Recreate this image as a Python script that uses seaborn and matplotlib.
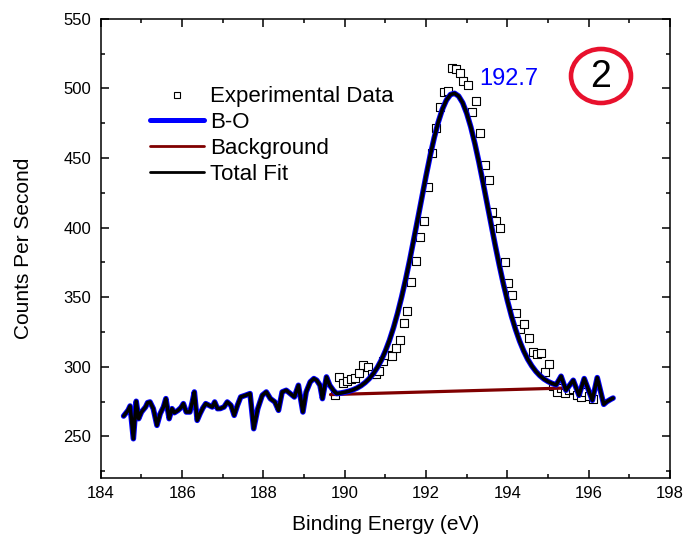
import numpy as np
import pandas as pd
import matplotlib
matplotlib.use("Agg")
import matplotlib.pyplot as plt
import seaborn as sns
from matplotlib.lines import Line2D
from matplotlib.patches import Ellipse
from matplotlib.transforms import IdentityTransform

# ---------------- data ----------------
noise_left_x = [184.56, 184.67, 184.72, 184.80, 184.87, 184.93, 185.00, 185.10, 185.15, 185.21,
                185.29, 185.38, 185.46, 185.54, 185.60, 185.68, 185.75, 185.81, 185.90, 185.97,
                186.03, 186.10, 186.19, 186.25, 186.30, 186.37, 186.44, 186.51, 186.58, 186.66,
                186.74, 186.80, 186.87, 186.94, 187.03, 187.11, 187.20, 187.28, 187.36, 187.44,
                187.56, 187.67, 187.76, 187.86, 187.97, 188.07, 188.17, 188.28, 188.37, 188.46,
                188.56, 188.66, 188.76, 188.86, 188.97, 189.05, 189.15, 189.24, 189.31, 189.39,
                189.45, 189.55, 189.63, 189.72]
noise_left_y = [264.6, 268.7, 271.8, 248.3, 275.2, 262.7, 267.5, 271.1, 274.2, 274.7,
                269.9, 257.9, 266.3, 271.1, 277.1, 262.7, 269.9, 267.0, 268.7, 270.6,
                273.5, 267.5, 267.5, 274.7, 281.9, 261.5, 266.3, 270.4, 273.5, 272.3,
                271.1, 274.7, 269.9, 270.0, 271.1, 274.7, 272.3, 265.1, 272.3, 278.3,
                279.5, 280.7, 255.5, 269.9, 279.5, 281.9, 277.1, 274.7, 268.7, 281.9,
                283.1, 280.7, 278.3, 286.7, 267.5, 281.9, 289.1, 291.5, 290.3, 286.7,
                277.1, 292.7, 286.7, 283.0]

fit_x = [189.8, 189.9, 190.0, 190.1, 190.2, 190.3, 190.4, 190.5, 190.6, 190.7,
         190.8, 190.9, 191.0, 191.1, 191.2, 191.3, 191.4, 191.5, 191.6, 191.7,
         191.8, 191.9, 192.0, 192.1, 192.2, 192.3, 192.4, 192.5, 192.6, 192.7,
         192.8, 192.9, 193.0, 193.1, 193.2, 193.3, 193.4, 193.5, 193.6, 193.7,
         193.8, 193.9, 194.0, 194.1, 194.2, 194.3, 194.4, 194.5, 194.6, 194.7,
         194.8, 194.9, 195.0, 195.1, 195.2]
fit_y = [280.7, 281.1, 281.7, 282.4, 283.4, 284.7, 286.4, 288.6, 291.4, 295.0,
         299.4, 304.8, 311.4, 319.1, 328.2, 338.6, 350.3, 363.1, 377.0, 391.8,
         406.9, 422.3, 437.3, 451.6, 464.6, 475.8, 485.0, 491.6, 495.6, 496.5,
         494.5, 489.7, 482.1, 472.3, 460.4, 447.0, 432.5, 417.5, 402.3, 387.4,
         373.2, 359.8, 347.6, 336.5, 326.9, 318.5, 311.4, 305.4, 300.6, 296.7,
         293.6, 291.2, 289.4, 288.0, 287.0]

noise_right_x = [195.32, 195.44, 195.62, 195.76, 195.89, 196.09, 196.21, 196.37, 196.45, 196.54, 196.60]
noise_right_y = [293.2, 283.1, 290.3, 279.5, 291.5, 275.9, 292.2, 273.0, 275.0, 276.6, 277.5]

bg_x = [189.65, 195.40]
bg_y = [280.0, 284.7]

exp_x = [189.75, 189.85, 189.95, 190.06, 190.15, 190.25, 190.36, 190.46, 190.56, 190.66,
         190.76, 190.85, 190.95, 191.05, 191.15, 191.25, 191.35, 191.45, 191.54, 191.64,
         191.74, 191.84, 191.94, 192.04, 192.15, 192.25, 192.33, 192.43, 192.53, 192.63,
         192.74, 192.84, 192.92, 193.02, 193.14, 193.24, 193.33, 193.44, 193.54, 193.63,
         193.73, 193.82, 193.93, 194.02, 194.12, 194.22, 194.32, 194.42, 194.52, 194.63,
         194.73, 194.83, 194.93, 195.02, 195.11, 195.21, 195.32, 195.42, 195.52, 195.62,
         195.72, 195.80, 195.90, 196.00, 196.10]
exp_y = [280.0, 293.0, 288.5, 290.0, 291.0, 292.0, 295.5, 301.5, 300.0, 295.0,
         295.0, 297.0, 304.0, 308.5, 307.5, 313.5, 319.3, 331.5, 340.4, 360.8,
         376.0, 393.0, 405.0, 429.0, 453.4, 471.4, 486.5, 497.3, 498.4, 514.5,
         514.0, 511.4, 505.6, 502.3, 483.1, 491.2, 468.0, 444.7, 434.4, 411.2,
         404.9, 399.9, 375.0, 359.9, 351.4, 338.7, 326.8, 331.0, 321.0, 310.7,
         309.5, 310.2, 296.3, 302.3, 286.5, 282.0, 285.0, 281.0, 283.0, 284.0,
         280.0, 278.3, 282.0, 279.0, 277.0]

legend_labels = ["Experimental Data", "B-O", "Background", "Total Fit"]
peak_label = "192.7"
x_ticks = [184, 186, 188, 190, 192, 194, 196, 198]
y_ticks = [250, 300, 350, 400, 450, 500, 550]

# ---------------- styling ----------------
sns.set_style("ticks")
plt.rcParams['font.family'] = ['Liberation Sans', 'DejaVu Sans']
plt.rcParams['text.color'] = 'black'
plt.rcParams['axes.labelcolor'] = 'black'
plt.rcParams['xtick.color'] = 'black'
plt.rcParams['ytick.color'] = 'black'

fig = plt.figure(figsize=(6.86, 5.39), dpi=100)
ax = fig.add_axes([0.147, 0.113, 0.8297, 0.852])

total_df = pd.DataFrame({
    "x": noise_left_x + fit_x + noise_right_x,
    "y": noise_left_y + fit_y + noise_right_y,
})
bg_df = pd.DataFrame({"x": bg_x, "y": bg_y})
exp_df = pd.DataFrame({"x": exp_x, "y": exp_y})

sns.scatterplot(data=exp_df, x="x", y="y", ax=ax, marker="s", s=26,
                facecolor="white", edgecolor="black", linewidth=0.8, zorder=2, legend=False)
sns.lineplot(data=bg_df, x="x", y="y", ax=ax, color="#800000", lw=2.3,
             sort=False, estimator=None, zorder=3, legend=False)
sns.lineplot(data=total_df, x="x", y="y", ax=ax, color="#0000ff", lw=4.0,
             sort=False, estimator=None, zorder=4, legend=False)
sns.lineplot(data=total_df, x="x", y="y", ax=ax, color="black", lw=2.6,
             sort=False, estimator=None, zorder=5, legend=False)

ax.set_xlim(184, 198)
ax.set_ylim(220, 550)
ax.set_xticks(x_ticks)
ax.set_yticks(y_ticks)
ax.set_xticks(np.arange(185, 198, 2), minor=True)
ax.set_yticks([225, 275, 325, 375, 425, 475, 525], minor=True)
ax.tick_params(which="both", direction="in", top=True, right=True, width=1.1, colors="black")
ax.tick_params(which="major", length=5.5)
ax.tick_params(which="minor", length=3)
ax.tick_params(axis="x", labelsize=12, pad=6)
ax.tick_params(axis="y", labelsize=12, pad=7)
for sp in ax.spines.values():
    sp.set_linewidth(1.1)
    sp.set_color("black")

ax.set_xlabel("Binding Energy (eV)", fontsize=15, labelpad=10)
ax.set_ylabel("Counts Per Second", fontsize=15, labelpad=22)

handles = [
    Line2D([], [], ls="none", marker="s", ms=4.5, mfc="white", mec="black", mew=0.8),
    Line2D([], [], color="#0000ff", lw=3.6),
    Line2D([], [], color="#800000", lw=2.0),
    Line2D([], [], color="black", lw=2.0),
]
ax.legend(handles, legend_labels, loc="upper left", bbox_to_anchor=(0.086, 0.853),
          frameon=False, fontsize=16, handlelength=2.45, handletextpad=0.25,
          labelspacing=0.22, borderpad=0, borderaxespad=0)

ax.text(193.3, 507, peak_label, color="#0000ff", fontsize=17, va="center", ha="left")

# circled "2" marker in the top-right corner
circ = Ellipse((601, 539 - 76), 60, 54, transform=IdentityTransform(),
               facecolor="none", edgecolor="#e8112d", lw=3.3)
fig.patches.append(circ)
fig.text(601 / 686, 1 - 77 / 539, "2", fontsize=27, ha="center", va="center", color="black")

fig.savefig("out.png", dpi=100)
